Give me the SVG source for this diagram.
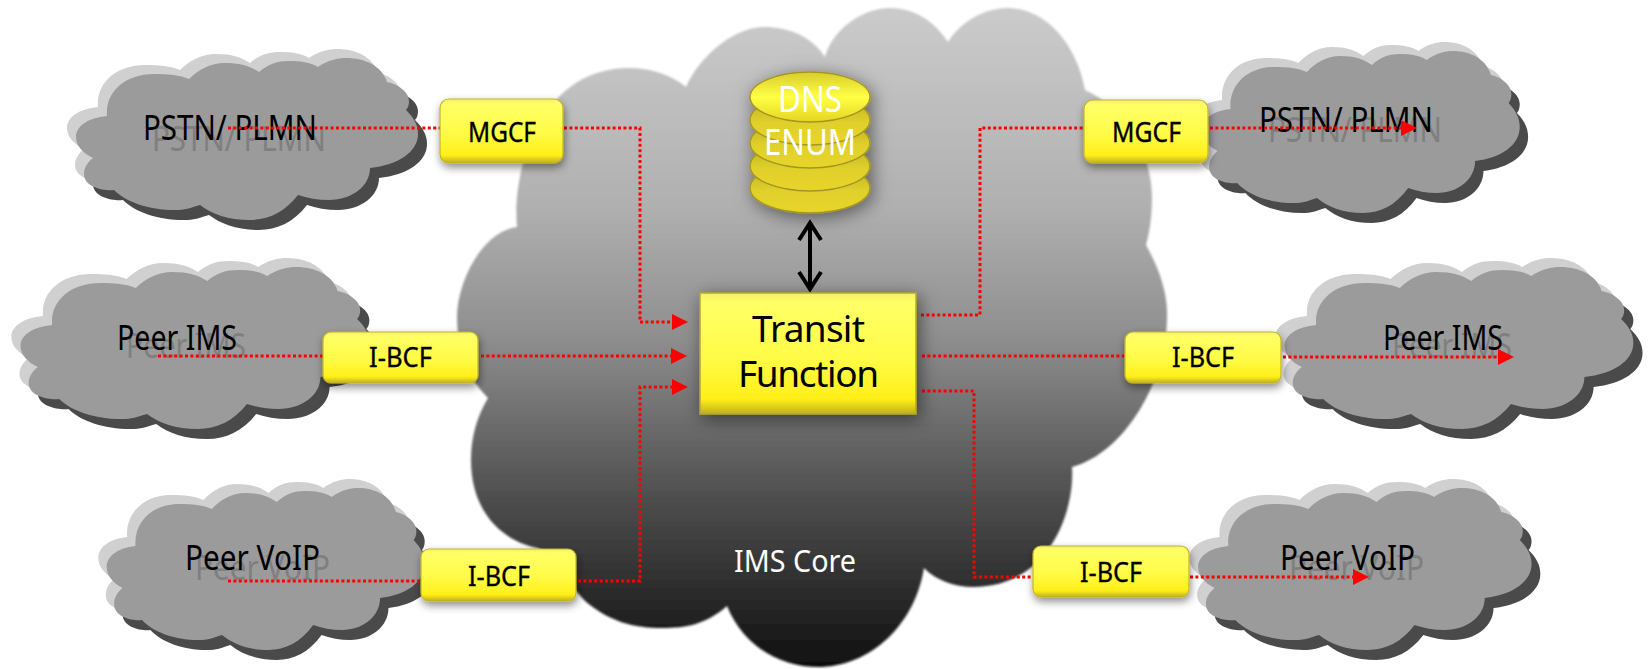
<svg xmlns="http://www.w3.org/2000/svg" width="1648" height="669" viewBox="0 0 1648 669">
<style>
text{font-family:"Noto Sans","Liberation Sans",sans-serif}
.cl{font-size:34px;fill:#000}
.gh{font-size:34px;fill:#7f7f7f}
.bx{font-size:27px;fill:#000;stroke:#000;stroke-width:.35}
.tf{font-size:37px;fill:#000}
.wh{font-size:37px;fill:#fff}
.box{fill:url(#by);stroke:#c2b428;stroke-width:1.2;filter:url(#sh)}
.con{fill:none;stroke:#f00;stroke-width:3;stroke-dasharray:3 2.4}
.ah{fill:#f00;stroke:none}
.dbl{fill:none;stroke:#000;stroke-width:4}
.disc{stroke:#a39622;stroke-width:1.5}
</style>
<defs>
<linearGradient id="core" gradientUnits="userSpaceOnUse" x1="0" y1="8" x2="0" y2="669">
<stop offset="0" stop-color="#cbcbcb"/><stop offset=".3" stop-color="#b0b0b0"/><stop offset=".5" stop-color="#8e8e8e"/><stop offset=".75" stop-color="#4c4c4c"/><stop offset="1" stop-color="#0f0f0f"/>
</linearGradient>
<linearGradient id="by" x1="0" y1="0" x2="0" y2="1">
<stop offset="0" stop-color="#f4f06a"/><stop offset=".08" stop-color="#ffff66"/><stop offset=".55" stop-color="#fffb45"/><stop offset=".88" stop-color="#ffee18"/><stop offset="1" stop-color="#bfae20"/>
</linearGradient>
<linearGradient id="dsk" x1="0" y1="0" x2="0" y2="1">
<stop offset="0" stop-color="#b8aa20"/><stop offset=".55" stop-color="#e0d02c"/><stop offset="1" stop-color="#e8d528"/>
</linearGradient>
<linearGradient id="dtop" x1="0" y1="0" x2="0" y2="1">
<stop offset="0" stop-color="#d8cc2c"/><stop offset=".5" stop-color="#ffff44"/><stop offset="1" stop-color="#e6d522"/>
</linearGradient>
<filter id="sh" x="-20%" y="-20%" width="140%" height="150%"><feDropShadow dx="1" dy="4" stdDeviation="4" flood-color="#000" flood-opacity=".45"/></filter>
<filter id="sf" x="-5%" y="-5%" width="110%" height="110%"><feGaussianBlur stdDeviation="1"/></filter>
<filter id="ss" x="-30%" y="-30%" width="170%" height="170%"><feDropShadow dx="3" dy="4" stdDeviation="9" flood-color="#000" flood-opacity=".5"/></filter>
<path id="cloud" d="M107 116C105 92 125 74 154 74C168 74 180 75 189 79C198 70 210 63 225 63C240 63 250 66 259 72C268 64 278 61 289 61C300 61 310 62 318 67C328 60 338 58 346 58C365 58 382 66 387 82C398 84 409 92 409 101C409 105 408 108 406 110C414 118 418 125 418 134C418 152 398 165 370 168C370 186 352 200 329 200C318 200 307 198 298 195C285 212 268 220 250 220C228 220 212 214 200 205C190 208 185 210 175 210C148 210 126 202 114 190C105 191 84 188 84 174C84 167 88 162 93 158C83 153 76 146 76 137C76 126 88 118 107 116Z"/>
<g id="smallcloud">
<use href="#cloud" x="9" y="10" fill="#4a4a4a"/>
<use href="#cloud" x="-9" y="-9" fill="#d0d0d0"/>
<use href="#cloud" fill="#9b9b9b"/>
</g>
<path id="arrow" d="M0 -8L16 0L0 8Z"/>
</defs>
<rect width="1648" height="669" fill="#fff"/>
<g id="ims-core">
<path filter="url(#sf)" fill="url(#core)" d="M517 227C512 170 540 68 629 68C650 68 672 75 686 87C700 55 735 27 764 27C790 27 812 37 825 57C832 30 862 8 890 8C915 8 935 22 948 42C960 22 985 8 1007 8C1050 8 1078 50 1085 90C1120 105 1152 150 1152 197C1152 215 1150 230 1146 245C1160 270 1168 295 1167 317C1167 380 1125 453 1072 467C1075 510 1050 587 973 587C955 587 935 580 924 568C915 625 870 667 818 667C785 667 745 650 727 606C705 625 685 628 663 628C630 628 610 620 590 605C570 590 555 553 537 548C500 540 471 510 471 460C471 435 478 415 488 398C465 375 457 345 457 317C457 285 480 232 517 227Z"/>
<text x="734" y="572" fill="#fff" textLength="122" lengthAdjust="spacingAndGlyphs" style="font-size:30px">IMS Core</text>
</g>
<g id="cloud-pstn-left">
<use href="#smallcloud"/>
<text class="gh" x="152" y="151" textLength="174" lengthAdjust="spacingAndGlyphs">PSTN/ PLMN</text>
<text class="cl" x="143" y="140" textLength="174" lengthAdjust="spacingAndGlyphs">PSTN/ PLMN</text>
</g>
<g id="cloud-ims-left">
<use href="#smallcloud" transform="translate(-57 209) scale(1.02 1)"/>
<text class="gh" x="126" y="358" textLength="120" lengthAdjust="spacingAndGlyphs">Peer IMS</text>
<text class="cl" x="117" y="350" textLength="120" lengthAdjust="spacingAndGlyphs">Peer IMS</text>
</g>
<g id="cloud-voip-left">
<use href="#smallcloud" transform="translate(36 430) scale(.93 1)"/>
<text class="gh" x="195" y="580" textLength="135" lengthAdjust="spacingAndGlyphs">Peer VoIP</text>
<text class="cl" x="185" y="570" textLength="135" lengthAdjust="spacingAndGlyphs">Peer VoIP</text>
</g>
<g id="cloud-pstn-right">
<use href="#smallcloud" transform="translate(1131 -7) scale(.93 1)"/>
<text class="gh" x="1268" y="142" textLength="174" lengthAdjust="spacingAndGlyphs">PSTN/ PLMN</text>
<text class="cl" x="1259" y="132" textLength="174" lengthAdjust="spacingAndGlyphs">PSTN/ PLMN</text>
</g>
<g id="cloud-ims-right">
<use href="#smallcloud" transform="translate(1207 209) scale(1.02 1)"/>
<text class="gh" x="1392" y="358" textLength="120" lengthAdjust="spacingAndGlyphs">Peer IMS</text>
<text class="cl" x="1383" y="350" textLength="120" lengthAdjust="spacingAndGlyphs">Peer IMS</text>
</g>
<g id="cloud-voip-right">
<use href="#smallcloud" transform="translate(1124 430) scale(.975 1)"/>
<text class="gh" x="1289" y="580" textLength="135" lengthAdjust="spacingAndGlyphs">Peer VoIP</text>
<text class="cl" x="1280" y="570" textLength="135" lengthAdjust="spacingAndGlyphs">Peer VoIP</text>
</g>
<g id="connectors">
<path class="con" d="M228 128H440"/>
<path class="con" d="M564 128H640V322H674"/>
<use href="#arrow" class="ah" x="672" y="322"/>
<path class="con" d="M158 356H323"/>
<path class="con" d="M481 356H674"/>
<use href="#arrow" class="ah" x="671" y="356"/>
<path class="con" d="M228 581H421"/>
<path class="con" d="M578 581H640V387H674"/>
<use href="#arrow" class="ah" x="672" y="387"/>
<path class="con" d="M921 315H980V128H1084"/>
<path class="con" d="M1210 128H1402"/>
<use href="#arrow" class="ah" x="1401" y="128"/>
<path class="con" d="M922 356H1125"/>
<path class="con" d="M1283 357H1499"/>
<use href="#arrow" class="ah" x="1498" y="357"/>
<path class="con" d="M922 391H974V577H1033"/>
<path class="con" d="M1190 577H1354"/>
<use href="#arrow" class="ah" x="1353" y="577"/>
<path class="dbl" d="M810 224V288M799 240L810 223L821 240M799 272L810 289L821 272"/>
</g>
<g id="dns-enum">
<g filter="url(#ss)">
<ellipse class="disc" cx="810" cy="188" rx="60" ry="25" fill="url(#dsk)"/>
<ellipse class="disc" cx="810" cy="166" rx="60" ry="25" fill="url(#dsk)"/>
<ellipse class="disc" cx="810" cy="143" rx="60" ry="25" fill="url(#dsk)"/>
<ellipse class="disc" cx="810" cy="120" rx="60" ry="25" fill="url(#dsk)"/>
<ellipse class="disc" cx="810" cy="97" rx="60" ry="25" fill="url(#dtop)"/>
</g>
<text class="wh" x="778" y="112" textLength="64" lengthAdjust="spacingAndGlyphs">DNS</text>
<text class="wh" x="764" y="155" textLength="92" lengthAdjust="spacingAndGlyphs">ENUM</text>
</g>
<g id="transit-function">
<rect x="700" y="293" width="216" height="121" fill="url(#by)" stroke="#b5a82a" stroke-width="1.5" filter="url(#ss)"/>
<text class="tf" x="752" y="342" textLength="113" lengthAdjust="spacing">Transit</text>
<text class="tf" x="738" y="387" textLength="141" lengthAdjust="spacing">Function</text>
</g>
<g id="mgcf-left">
<rect class="box" x="440" y="99" width="123" height="64" rx="9"/>
<text class="bx" x="468" y="142" textLength="68" lengthAdjust="spacingAndGlyphs">MGCF</text>
</g>
<g id="mgcf-right">
<rect class="box" x="1084" y="100" width="124" height="63" rx="9"/>
<text class="bx" x="1112" y="142" textLength="69" lengthAdjust="spacingAndGlyphs">MGCF</text>
</g>
<g id="ibcf-ims-left">
<rect class="box" x="323" y="332" width="155" height="51" rx="8"/>
<text class="bx" x="369" y="367" textLength="63" lengthAdjust="spacingAndGlyphs">I-BCF</text>
</g>
<g id="ibcf-ims-right">
<rect class="box" x="1125" y="332" width="156" height="51" rx="8"/>
<text class="bx" x="1172" y="367" textLength="62" lengthAdjust="spacingAndGlyphs">I-BCF</text>
</g>
<g id="ibcf-voip-left">
<rect class="box" x="421" y="549" width="155" height="52" rx="8"/>
<text class="bx" x="468" y="586" textLength="62" lengthAdjust="spacingAndGlyphs">I-BCF</text>
</g>
<g id="ibcf-voip-right">
<rect class="box" x="1033" y="546" width="156" height="51" rx="8"/>
<text class="bx" x="1080" y="582" textLength="62" lengthAdjust="spacingAndGlyphs">I-BCF</text>
</g>
</svg>
